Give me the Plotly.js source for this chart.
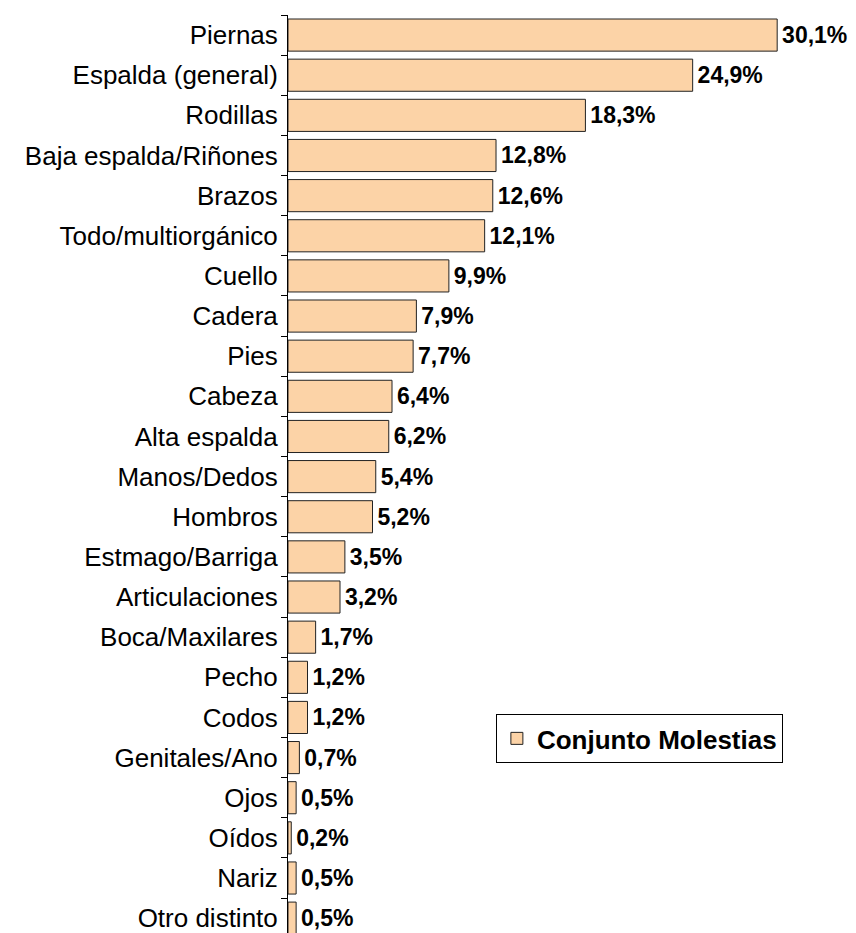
<!DOCTYPE html>
<html>
<head>
<meta charset="utf-8">
<script src="https://cdn.plot.ly/plotly-3.0.1.min.js"></script>
<style>html,body{margin:0;padding:0;background:#fff;}</style>
</head>
<body>
<div id="chart" style="width:856px;height:933px;"></div>
<script>
const categories = ["Piernas","Espalda (general)","Rodillas","Baja espalda/Riñones","Brazos","Todo/multiorgánico","Cuello","Cadera","Pies","Cabeza","Alta espalda","Manos/Dedos","Hombros","Estmago/Barriga","Articulaciones","Boca/Maxilares","Pecho","Codos","Genitales/Ano","Ojos","Oídos","Nariz","Otro distinto"];
const values = [30.1,24.9,18.3,12.8,12.6,12.1,9.9,7.9,7.7,6.4,6.2,5.4,5.2,3.5,3.2,1.7,1.2,1.2,0.7,0.5,0.2,0.5,0.5];
const seriesName = "Conjunto Molestias";

const labels = values.map(v => '\u200A' + v.toFixed(1).replace('.', ',') + '%');

const trace = {
  type: 'bar',
  orientation: 'h',
  x: values,
  y: categories,
  name: seriesName,
  text: labels,
  textposition: 'outside',
  cliponaxis: false,
  textfont: {family: 'Liberation Sans, Arial, sans-serif', size: 23, color: '#000', weight: 'bold'},
  marker: {color: '#FCD3A7', line: {color: '#222', width: 1}},
  hoverinfo: 'none',
  showlegend: true
};

const layout = {
  width: 856,
  height: 933,
  margin: {l: 288, r: 0, t: 15, b: 0},
  paper_bgcolor: '#fff',
  plot_bgcolor: '#fff',
  bargap: 0.2,
  font: {family: 'Liberation Sans, Arial, sans-serif', color: '#000'},
  xaxis: {
    range: [0, 34.95],
    visible: false,
    showgrid: false,
    zeroline: false
  },
  yaxis: {
    type: 'category',
    categoryorder: 'array',
    categoryarray: categories,
    range: [22.37, -0.5],
    showline: true,
    linecolor: '#000',
    linewidth: 1,
    ticks: 'outside',
    tickson: 'boundaries',
    ticklen: 6,
    tickcolor: '#000',
    ticklabelstandoff: 4,
    showgrid: false,
    zeroline: false,
    tickfont: {size: 26, color: '#000', family: 'Liberation Sans, Arial, sans-serif'}
  },
  showlegend: true,
  legend: {
    x: 0.366,
    y: 0.2386,
    xanchor: 'left',
    yanchor: 'top',
    bgcolor: '#fff',
    bordercolor: '#000',
    borderwidth: 1,
    font: {size: 26, color: '#000', weight: 'bold', family: 'Liberation Sans, Arial, sans-serif'},
    itemwidth: 30
  }
};

Plotly.newPlot('chart', [trace], layout, {staticPlot: true, displayModeBar: false});
</script>
</body>
</html>
